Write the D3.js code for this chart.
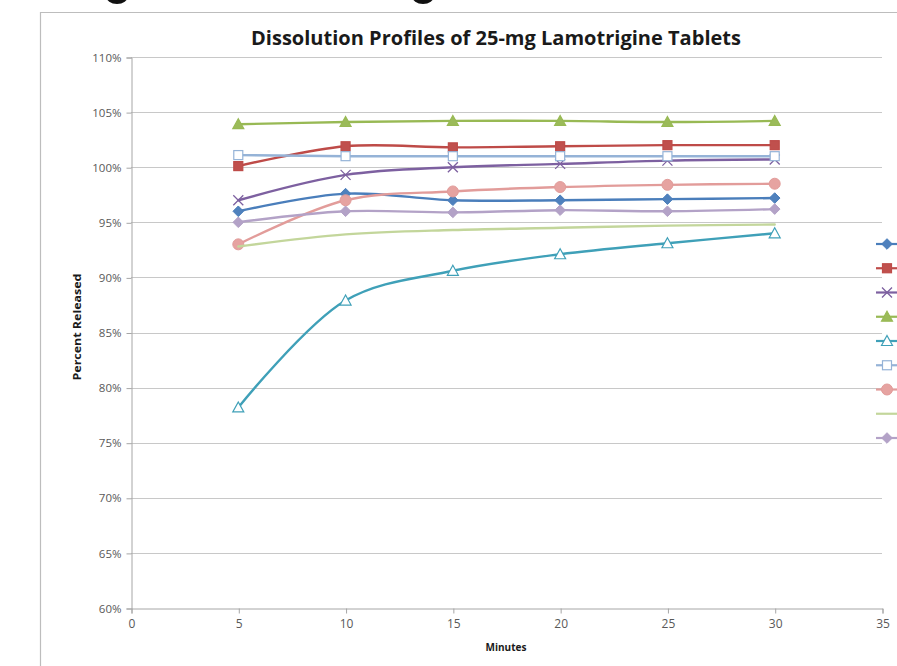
<!DOCTYPE html>
<html>
<head>
<meta charset="utf-8">
<script src="https://cdn.jsdelivr.net/npm/d3@7"></script>
<style>
  html, body { margin: 0; padding: 0; background: #fff; }
  svg { display: block; }
</style>
</head>
<body>
<svg id="chart" width="897" height="666"></svg>
<script>
// ---- data ----
const minutes = [5, 10, 15, 20, 25, 30];
const seriesNames = ["Lot 1", "Lot 2", "Lot 3", "Lot 4", "Lot 5", "Lot 6", "Lot 7", "Lot 8", "Lot 9"];
const s1 = [96.0, 97.6, 97.0, 97.0, 97.1, 97.2];
const s2 = [100.1, 101.9, 101.8, 101.9, 102.0, 102.0];
const s3 = [97.0, 99.3, 100.0, 100.3, 100.6, 100.7];
const s4 = [103.9, 104.1, 104.2, 104.2, 104.1, 104.2];
const s5 = [78.2, 87.9, 90.6, 92.1, 93.1, 94.0];
const s6 = [101.1, 101.0, 101.0, 101.0, 101.0, 101.0];
const s7 = [93.0, 97.0, 97.8, 98.2, 98.4, 98.5];
const s8 = [92.8, 93.9, 94.3, 94.5, 94.7, 94.8];
const s9 = [95.0, 96.0, 95.9, 96.1, 96.0, 96.2];
const seriesValues = [s1, s2, s3, s4, s5, s6, s7, s8, s9];
const xTicks = [0, 5, 10, 15, 20, 25, 30, 35];
const yTicks = [60, 65, 70, 75, 80, 85, 90, 95, 100, 105, 110];
const titleText = "Dissolution Profiles of 25-mg Lamotrigine Tablets";
const xTitle = "Minutes";
const yTitle = "Percent Released";

// ---- styles ----
const styles = [
  {color: "#4A7EBB", marker: "diamond", fill: "#4F81BD"},
  {color: "#BE4B48", marker: "square", fill: "#C0504D"},
  {color: "#7D60A0", marker: "x", fill: "none"},
  {color: "#98B954", marker: "triangle", fill: "#9BBB59"},
  {color: "#3FA0B8", marker: "triangle", fill: "#fff"},
  {color: "#95B3D7", marker: "square", fill: "#fff"},
  {color: "#E29C9A", marker: "circle", fill: "#E6A3A1"},
  {color: "#C3D69B", marker: "none", fill: "none"},
  {color: "#B3A2C7", marker: "diamond", fill: "#B3A2C7"}
];

const svg = d3.select("#chart");
const W = 897, H = 666;
const FONT = "'Open Sans', 'DejaVu Sans', sans-serif";

const x = d3.scaleLinear().domain([0, 35]).range([131, 882]);
const y = d3.scaleLinear().domain([60, 110]).range([608, 57]);

// frame
svg.append("rect").attr("width", W).attr("height", H).attr("fill", "#fff");
svg.append("line").attr("x1", 40.5).attr("x2", 40.5).attr("y1", 12).attr("y2", H)
  .attr("stroke", "#BDBDBD").attr("stroke-width", 1.2);
svg.append("line").attr("x1", 40).attr("x2", W).attr("y1", 12.5).attr("y2", 12.5)
  .attr("stroke", "#BDBDBD").attr("stroke-width", 1.2);
// fragments of text above the crop
svg.append("ellipse").attr("cx", 117).attr("cy", -4).attr("rx", 11).attr("ry", 8).attr("fill", "#111");
svg.append("ellipse").attr("cx", 423).attr("cy", -4).attr("rx", 11).attr("ry", 8).attr("fill", "#111");

// title
svg.append("text").attr("x", 496).attr("y", 45)
  .attr("text-anchor", "middle")
  .attr("font-family", FONT)
  .attr("font-weight", "bold").attr("font-size", 19).attr("fill", "#1a1a1a")
  .attr("textLength", 490).attr("lengthAdjust", "spacingAndGlyphs")
  .text(titleText);

// gridlines
svg.append("g").selectAll("line").data(yTicks.filter(d => d > 60)).join("line")
  .attr("x1", x(0)).attr("x2", x(35))
  .attr("y1", d => Math.round(y(d)) + 0.5).attr("y2", d => Math.round(y(d)) + 0.5)
  .attr("stroke", "#C8C8C8").attr("stroke-width", 1);

// axes
const yAxis = d3.axisLeft(y).tickValues(yTicks).tickFormat(d => d + "%").tickSize(5).tickPadding(5);
const gy = svg.append("g").attr("transform", `translate(${x(0) + 0.5},0.5)`).call(yAxis);
const xAxis = d3.axisBottom(x).tickValues(xTicks).tickFormat(d3.format("d")).tickSize(5).tickPadding(6);
const gx = svg.append("g").attr("transform", `translate(0.5,${Math.round(y(60)) + 0.5})`).call(xAxis);
[gx, gy].forEach(g => {
  g.select(".domain").attr("stroke", "#A6A6A6");
  g.selectAll(".tick line").attr("stroke", "#A6A6A6");
  g.selectAll(".tick text").attr("fill", "#595959").style("font-family", FONT);
});
gx.selectAll(".tick text").style("font-size", "12px");
gy.selectAll(".tick text").style("font-size", "11.5px");

// axis titles
svg.append("text").attr("x", 506).attr("y", 651).attr("text-anchor", "middle")
  .attr("font-family", FONT)
  .attr("font-weight", "bold").attr("font-size", 10).attr("fill", "#1a1a1a").text(xTitle);
svg.append("text").attr("transform", "translate(81,327) rotate(-90)").attr("text-anchor", "middle")
  .attr("font-family", FONT)
  .attr("font-weight", "bold").attr("font-size", 10).attr("fill", "#1a1a1a")
  .attr("textLength", 107).attr("lengthAdjust", "spacingAndGlyphs").text(yTitle);

// marker drawing
function drawMarker(g, st, cx, cy) {
  const m = st.marker;
  if (m === "diamond") {
    g.append("path").attr("d", "M0,-5.3L5.3,0L0,5.3L-5.3,0Z")
      .attr("transform", `translate(${cx},${cy})`)
      .attr("fill", st.fill).attr("stroke", st.color).attr("stroke-width", 1);
  } else if (m === "square") {
    g.append("rect").attr("x", cx - 4.5).attr("y", cy - 4.5).attr("width", 9).attr("height", 9)
      .attr("fill", st.fill).attr("stroke", st.color).attr("stroke-width", 1.2);
  } else if (m === "triangle") {
    g.append("path").attr("d", "M0,-5.5L5.5,4.5L-5.5,4.5Z")
      .attr("transform", `translate(${cx},${cy})`)
      .attr("fill", st.fill).attr("stroke", st.color).attr("stroke-width", 1.2);
  } else if (m === "circle") {
    g.append("circle").attr("cx", cx).attr("cy", cy).attr("r", 5.5)
      .attr("fill", st.fill).attr("stroke", st.color).attr("stroke-width", 1);
  } else if (m === "x") {
    g.append("path").attr("d", "M-5,-5L5,5M-5,5L5,-5")
      .attr("transform", `translate(${cx},${cy})`)
      .attr("fill", "none").attr("stroke", st.color).attr("stroke-width", 1.3);
  }
}

// lines
const line = d3.line().x(d => x(d[0])).y(d => y(d[1])).curve(d3.curveCatmullRom.alpha(0.5));
const seriesG = svg.append("g");
seriesValues.forEach((vals, i) => {
  const st = styles[i];
  const pts = minutes.map((m, j) => [m, vals[j]]);
  const g = seriesG.append("g");
  g.append("path").datum(pts).attr("d", line)
    .attr("fill", "none").attr("stroke", st.color).attr("stroke-width", 2.4)
    .attr("stroke-linejoin", "round").attr("stroke-linecap", "round");
  pts.forEach(p => drawMarker(g, st, x(p[0]), y(p[1])));
});

// legend (labels fall outside the visible crop)
const legY = d3.scalePoint().domain(seriesNames).range([244, 438]);
const legG = svg.append("g");
seriesNames.forEach((n, i) => {
  const st = styles[i];
  const ly = legY(n);
  legG.append("line").attr("x1", 876).attr("x2", 900).attr("y1", ly).attr("y2", ly)
    .attr("stroke", st.color).attr("stroke-width", 2.2);
  drawMarker(legG, st, 887, ly);
});
</script>
</body>
</html>
